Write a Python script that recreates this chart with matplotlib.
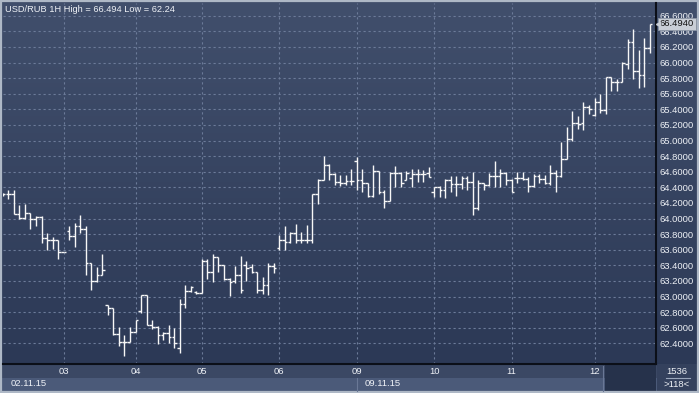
import numpy as np
import matplotlib
matplotlib.use("Agg")
import matplotlib.pyplot as plt
from matplotlib.patches import Rectangle
from matplotlib.transforms import blended_transform_factory

# hourly bars, USD/RUB 02.11.15 - 12.11.15
opens = [64.31, 64.31, 64.31, 64.06, 64.01, 64.07, 64.00, 64.02, 63.75, 63.73,
         63.73, 63.57, 63.84, 63.775, 63.90, 63.87, 63.43, 63.20, 63.27, 62.89,
         62.85, 62.52, 62.42, 62.42, 62.55, 62.81, 63.02, 62.64, 62.61, 62.51,
         62.53, 62.48, 62.34, 62.90, 63.07, 63.06, 63.04, 63.46, 63.31, 63.51,
         63.41, 63.23, 63.20, 63.28, 63.40, 63.38, 63.32, 63.08, 63.15, 63.39,
         63.62, 63.72, 63.70, 63.81, 63.72, 63.72, 63.72, 64.32, 64.50, 64.69,
         64.57, 64.47, 64.46, 64.48, 64.74, 64.50, 64.45, 64.29, 64.61, 64.34,
         64.23, 64.58, 64.58, 64.49, 64.52, 64.57, 64.57, 64.58, 64.34, 64.40,
         64.36, 64.50, 64.44, 64.44, 64.52, 64.47, 64.14, 64.45, 64.43, 64.55,
         64.55, 64.59, 64.50, 64.52, 64.52, 64.51, 64.42, 64.54, 64.51, 64.45,
         64.58, 64.55, 64.76, 65.02, 65.23, 65.22, 65.43, 65.33, 65.50, 65.39,
         65.81, 65.75, 65.75, 65.98, 66.26, 65.89, 65.84, 66.18]
highs = [64.33, 64.37, 64.37, 64.17, 64.19, 64.07, 64.03, 64.03, 63.82, 63.76,
         63.73, 63.57, 63.90, 63.94, 64.05, 63.90, 63.43, 63.375, 63.545, 62.89,
         62.85, 62.61, 62.51, 62.61, 62.70, 63.02, 63.02, 62.70, 62.62, 62.54,
         62.63, 62.60, 62.97, 63.15, 63.13, 63.07, 63.48, 63.48, 63.55, 63.51,
         63.41, 63.24, 63.39, 63.52, 63.46, 63.42, 63.32, 63.25, 63.43, 63.43,
         63.79, 63.90, 63.83, 63.93, 63.83, 63.92, 64.32, 64.51, 64.80, 64.70,
         64.58, 64.56, 64.56, 64.64, 64.79, 64.63, 64.46, 64.68, 64.61, 64.37,
         64.60, 64.67, 64.60, 64.61, 64.63, 64.63, 64.62, 64.66, 64.41, 64.42,
         64.51, 64.55, 64.55, 64.54, 64.54, 64.60, 64.50, 64.45, 64.58, 64.74,
         64.64, 64.60, 64.51, 64.60, 64.60, 64.53, 64.57, 64.57, 64.56, 64.69,
         64.62, 64.98, 65.17, 65.38, 65.32, 65.50, 65.45, 65.55, 65.60, 65.82,
         65.82, 65.79, 66.01, 66.30, 66.43, 66.16, 66.32, 66.494]
lows = [64.29, 64.25, 64.06, 64.00, 64.00, 63.86, 63.90, 63.68, 63.60, 63.61,
        63.48, 63.57, 63.73, 63.64, 63.82, 63.275, 63.09, 63.19, 63.27, 62.76,
        62.51, 62.36, 62.24, 62.42, 62.55, 62.79, 62.64, 62.58, 62.39, 62.44,
        62.40, 62.34, 62.28, 62.85, 63.06, 63.03, 63.04, 63.23, 63.19, 63.31,
        63.21, 63.01, 63.17, 63.04, 63.20, 63.30, 63.05, 63.03, 63.02, 63.30,
        63.60, 63.60, 63.69, 63.69, 63.69, 63.68, 63.68, 64.19, 64.50, 64.49,
        64.43, 64.42, 64.43, 64.43, 64.36, 64.34, 64.28, 64.28, 64.32, 64.14,
        64.23, 64.41, 64.40, 64.49, 64.41, 64.47, 64.47, 64.53, 64.27, 64.28,
        64.26, 64.34, 64.29, 64.38, 64.37, 64.04, 64.11, 64.37, 64.42, 64.41,
        64.41, 64.43, 64.34, 64.45, 64.49, 64.34, 64.41, 64.45, 64.44, 64.43,
        64.34, 64.53, 64.76, 65.00, 65.15, 65.13, 65.34, 65.32, 65.35, 65.34,
        65.63, 65.63, 65.75, 65.92, 65.79, 65.67, 65.68, 66.12]
closes = [64.31, 64.31, 64.06, 64.01, 64.07, 64.00, 64.02, 63.75, 63.73, 63.73,
          63.57, 63.57, 63.775, 63.90, 63.87, 63.43, 63.20, 63.27, 63.34, 62.85,
          62.52, 62.42, 62.42, 62.55, 62.70, 63.02, 62.64, 62.61, 62.51, 62.53,
          62.48, 62.40, 62.90, 63.07, 63.12, 63.04, 63.46, 63.31, 63.51, 63.41,
          63.23, 63.18, 63.28, 63.08, 63.36, 63.32, 63.08, 63.15, 63.39, 63.37,
          63.72, 63.70, 63.81, 63.72, 63.72, 63.72, 64.32, 64.50, 64.69, 64.57,
          64.47, 64.46, 64.48, 64.48, 64.50, 64.45, 64.29, 64.61, 64.34, 64.23,
          64.58, 64.58, 64.46, 64.59, 64.57, 64.57, 64.57, 64.53, 64.40, 64.36,
          64.50, 64.44, 64.44, 64.52, 64.47, 64.14, 64.45, 64.43, 64.55, 64.55,
          64.59, 64.50, 64.34, 64.52, 64.51, 64.42, 64.54, 64.51, 64.45, 64.58,
          64.55, 64.76, 65.02, 65.23, 65.21, 65.43, 65.41, 65.50, 65.39, 65.81,
          65.75, 65.75, 65.99, 66.26, 65.89, 65.84, 66.18, 66.494]

day_pos = [11, 24, 36, 50, 64, 78, 92, 107]
day_labels = ["03", "04", "05", "06", "09", "10", "11", "12"]
week_pos = [0, 64]
week_labels = ["02.11.15", "09.11.15"]
price_ticks = np.arange(62.4, 66.61, 0.2)

W, H = 699, 393
fig = plt.figure(figsize=(W / 100, H / 100), dpi=100)
fig.patch.set_facecolor("#2f3c59")
font = "Liberation Sans"
txt = "#eef1f6"

# background layer in pixel coords
bg = fig.add_axes([0, 0, 1, 1], zorder=0)
bg.set_xlim(0, W)
bg.set_ylim(H, 0)
bg.axis("off")
grad = np.linspace(0, 1, 256).reshape(-1, 1)
top = np.array([0x41, 0x4f, 0x6c]) / 255
bot = np.array([0x2c, 0x39, 0x56]) / 255
img = top + (bot - top) * grad[..., None]
bg.imshow(img, extent=(0, W, 364, 0), aspect="auto", interpolation="bilinear")
bg.add_patch(Rectangle((0, 364), W, 14, fc="#3b4864", ec="none"))
bg.add_patch(Rectangle((0, 378), W, 13, fc="#4b5a79", ec="none"))
bg.add_patch(Rectangle((605, 364), 51, 28, fc="#26324b", ec="none"))
bg.plot([603, 603], [366, 391], color="#6a7896", lw=0.8)
bg.add_patch(Rectangle((657, 364), 42, 28, fc="#34415d", ec="none"))
bg.text(677, 371, "1536", color=txt, fontsize=6.8, family=font, ha="center", va="center")
bg.plot([666, 690], [377.5, 377.5], color="#9aa6bb", lw=0.8)
bg.text(677, 384.5, ">118<", color=txt, fontsize=6.8, family=font, ha="center", va="center")
bg.add_patch(Rectangle((0.8, 0.8), W - 1.6, H - 1.6, fc="none", ec="#aeb8c6", lw=1.6))

ax = fig.add_axes([3 / W, (H - 364) / H, (656 - 3) / W, (364 - 3) / H], zorder=2)
ax.set_facecolor("none")
ax.set_xlim(0.036, 118.12)
ax.set_ylim(62.135, 66.763)

x = np.arange(len(opens))
bar_col = "#f7f7f7"
ax.vlines(x, lows, highs, color=bar_col, lw=1.0, zorder=3)
ax.hlines(opens, x - 0.48, x, color=bar_col, lw=1.0, zorder=3)
ax.hlines(closes, x, x + 0.48, color=bar_col, lw=1.0, zorder=3)

ax.set_yticks(price_ticks)
ax.set_yticklabels(["%.4f" % v for v in price_ticks])
ax.yaxis.tick_right()
ax.set_xticks(day_pos)
ax.set_xticklabels(day_labels)
ax.tick_params(axis="y", length=0, pad=2.5, labelsize=6.8, labelcolor=txt)
ax.tick_params(axis="x", length=0, pad=2.0, labelsize=6.8, labelcolor=txt)
for lab in ax.get_xticklabels() + ax.get_yticklabels():
    lab.set_family(font)
ax.grid(True, color="#6c7b99", lw=0.8, linestyle=(0, (2, 2.5)))
ax.set_axisbelow(True)
for s in ["left", "top"]:
    ax.spines[s].set_visible(False)
for s in ["right", "bottom"]:
    ax.spines[s].set_color("#0b0f18")
    ax.spines[s].set_linewidth(1.5)

ax.text(0.003, 0.982, "USD/RUB 1H High = 66.494 Low = 62.24", transform=ax.transAxes,
        color=txt, fontsize=6.7, family=font, ha="left", va="center")

# week labels in the date strip
tr = blended_transform_factory(ax.transData, ax.transAxes)
for p, lab in zip(week_pos, week_labels):
    ax.text(p + 1.4, -0.055, lab, transform=tr, color=txt, fontsize=6.8, family=font,
            ha="left", va="center", clip_on=False)
ax.plot([week_pos[1], week_pos[1]], [-0.04, -0.075], transform=tr, color="#6a7896",
        lw=0.8, clip_on=False)

# last price marker
ytr = ax.get_yaxis_transform()
last = closes[-1]
ax.text(1.006, last, "%.4f" % last, transform=ytr, color="#101010", fontsize=6.8,
        family=font, ha="left", va="center", clip_on=False, zorder=5,
        bbox=dict(boxstyle="square,pad=0.18", fc="#c9ced6", ec="#8d97a6", lw=0.6))
ax.plot([1.0035], [last], marker="<", ms=3, color="#c9ced6", transform=ytr,
        clip_on=False, zorder=5)

fig.savefig("out.png", dpi=100, facecolor=fig.get_facecolor())
